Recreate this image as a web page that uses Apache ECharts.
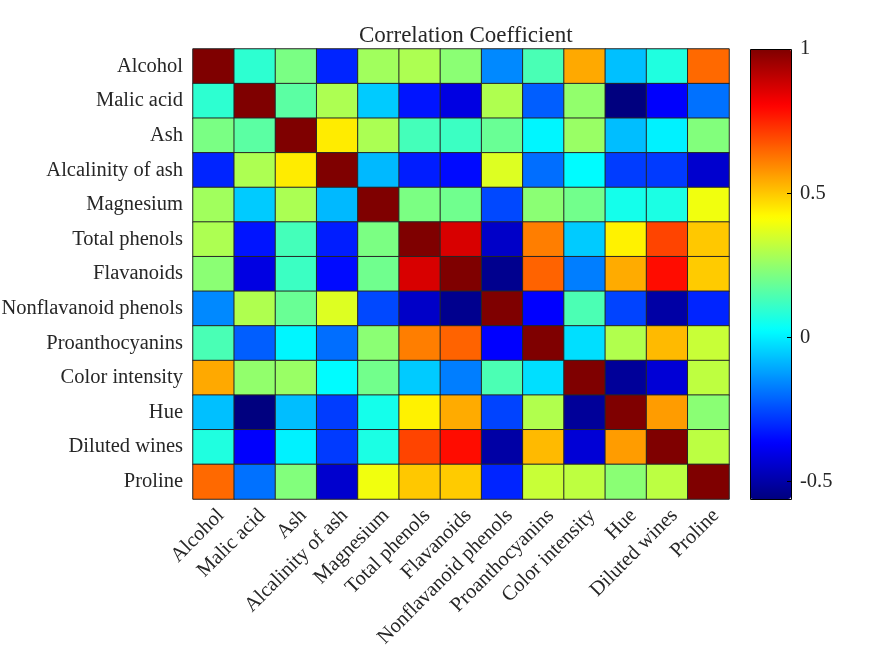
<!DOCTYPE html>
<html>
<head>
<meta charset="utf-8">
<script src="https://cdn.jsdelivr.net/npm/echarts@6/dist/echarts.min.js"></script>
<style>html,body{margin:0;padding:0;background:#fff}#c{width:875px;height:656px}</style>
</head>
<body>
<div id="c"></div>
<script>
const categories = ['Alcohol','Malic acid','Ash','Alcalinity of ash','Magnesium','Total phenols','Flavanoids','Nonflavanoid phenols','Proanthocyanins','Color intensity','Hue','Diluted wines','Proline'];
const rowAlcohol      = [1.000, 0.094, 0.212, -0.310, 0.271, 0.289, 0.237, -0.156, 0.137, 0.546, -0.072, 0.072, 0.644];
const rowMalic        = [0.094, 1.000, 0.164, 0.289, -0.055, -0.335, -0.411, 0.293, -0.221, 0.249, -0.561, -0.369, -0.192];
const rowAsh          = [0.212, 0.164, 1.000, 0.443, 0.287, 0.129, 0.115, 0.186, 0.010, 0.259, -0.075, 0.004, 0.224];
const rowAlcalinity   = [-0.310, 0.289, 0.443, 1.000, -0.083, -0.321, -0.351, 0.362, -0.197, 0.019, -0.274, -0.277, -0.441];
const rowMagnesium    = [0.271, -0.055, 0.287, -0.083, 1.000, 0.214, 0.196, -0.256, 0.237, 0.200, 0.055, 0.066, 0.393];
const rowTotalPhenols = [0.289, -0.335, 0.129, -0.321, 0.214, 1.000, 0.865, -0.450, 0.612, -0.055, 0.434, 0.700, 0.498];
const rowFlavanoids   = [0.237, -0.411, 0.115, -0.351, 0.196, 0.865, 1.000, -0.538, 0.653, -0.172, 0.543, 0.787, 0.494];
const rowNonflav      = [-0.156, 0.293, 0.186, 0.362, -0.256, -0.450, -0.538, 1.000, -0.366, 0.139, -0.263, -0.503, -0.311];
const rowProanth      = [0.137, -0.221, 0.010, -0.197, 0.237, 0.612, 0.653, -0.366, 1.000, -0.025, 0.296, 0.519, 0.330];
const rowColor        = [0.546, 0.249, 0.259, 0.019, 0.200, -0.055, -0.172, 0.139, -0.025, 1.000, -0.522, -0.429, 0.316];
const rowHue          = [-0.072, -0.561, -0.075, -0.274, 0.055, 0.434, 0.543, -0.263, 0.296, -0.522, 1.000, 0.565, 0.236];
const rowDiluted      = [0.072, -0.369, 0.004, -0.277, 0.066, 0.700, 0.787, -0.503, 0.519, -0.429, 0.565, 1.000, 0.313];
const rowProline      = [0.644, -0.192, 0.224, -0.441, 0.393, 0.498, 0.494, -0.311, 0.330, 0.316, 0.236, 0.313, 1.000];
const colorbarTicks = [-0.5, 0, 0.5, 1];
const cMin = -0.5612, cMax = 1;

const matrix = [rowAlcohol,rowMalic,rowAsh,rowAlcalinity,rowMagnesium,rowTotalPhenols,rowFlavanoids,rowNonflav,rowProanth,rowColor,rowHue,rowDiluted,rowProline];
const data = [];
matrix.forEach((row, i) => row.forEach((v, j) => data.push([j, i, v])));

const font = 'Liberation Serif, Times New Roman, serif';
const txt = '#262626';
const chart = echarts.init(document.getElementById('c'), null, {renderer: 'canvas'});
chart.setOption({
  animation: false,
  backgroundColor: '#fff',
  title: {
    text: 'Correlation Coefficient', left: 354, top: 19,
    textStyle: {fontFamily: font, fontSize: 23, fontWeight: 'normal', color: txt}
  },
  grid: [
    {left: 193, top: 49, width: 536, height: 450, outerBoundsMode: 'none', containLabel: false},
    {left: 750, top: 49, width: 41, height: 450, outerBoundsMode: 'none', containLabel: false},
    {left: 787, top: 49, width: 4, height: 450, outerBoundsMode: 'none', containLabel: false}
  ],
  xAxis: [
    {type: 'category', data: categories, gridIndex: 0,
     axisLine: {show: false}, axisTick: {show: false}, splitLine: {show: false},
     axisLabel: {rotate: 45, margin: 6, align: 'right', verticalAlign: 'top', fontFamily: font, fontSize: 20.5, color: txt, interval: 0}},
    {type: 'value', gridIndex: 1, show: false, min: 0, max: 1},
    {type: 'value', gridIndex: 2, show: false, min: 0, max: 1}
  ],
  yAxis: [
    {type: 'category', data: categories, gridIndex: 0, inverse: true,
     axisLine: {show: false}, axisTick: {show: false}, splitLine: {show: false},
     axisLabel: {margin: 10, fontFamily: font, fontSize: 20.5, color: txt, interval: 0}},
    {type: 'value', gridIndex: 1, position: 'right', min: cMin, max: cMax, z: 20,
     axisLine: {show: false}, splitLine: {show: false}, axisTick: {show: false},
     axisLabel: {margin: 9, fontFamily: font, fontSize: 20.5, color: txt, customValues: colorbarTicks,
       formatter: v => String(v)}},
    {type: 'value', gridIndex: 2, position: 'right', min: cMin, max: cMax, z: 20,
     axisLine: {show: false}, splitLine: {show: false}, axisLabel: {show: false},
     axisTick: {show: true, inside: false, length: 4, lineStyle: {color: '#000', width: 1}, customValues: colorbarTicks}}
  ],
  visualMap: {
    type: 'continuous', min: cMin, max: cMax, seriesIndex: 0, z: 1,
    calculable: false, hoverLink: false, text: null, showLabel: false,
    orient: 'vertical', left: 750, top: 49, padding: 0,
    itemWidth: 41, itemHeight: 450,
    inRange: {color: ['#00007F','#0000FF','#007FFF','#00FFFF','#7FFF7F','#FFFF00','#FF7F00','#FF0000','#7F0000']}
  },
  graphic: [
    {type: 'rect', z: 100, shape: {x: 750.5, y: 49.5, width: 41, height: 450},
     style: {fill: 'none', stroke: '#000', lineWidth: 1}}
  ],
  series: [{
    type: 'heatmap', xAxisIndex: 0, yAxisIndex: 0, data: data,
    itemStyle: {borderColor: '#262626', borderWidth: 1},
    emphasis: {disabled: true}
  }]
});
</script>
</body>
</html>
